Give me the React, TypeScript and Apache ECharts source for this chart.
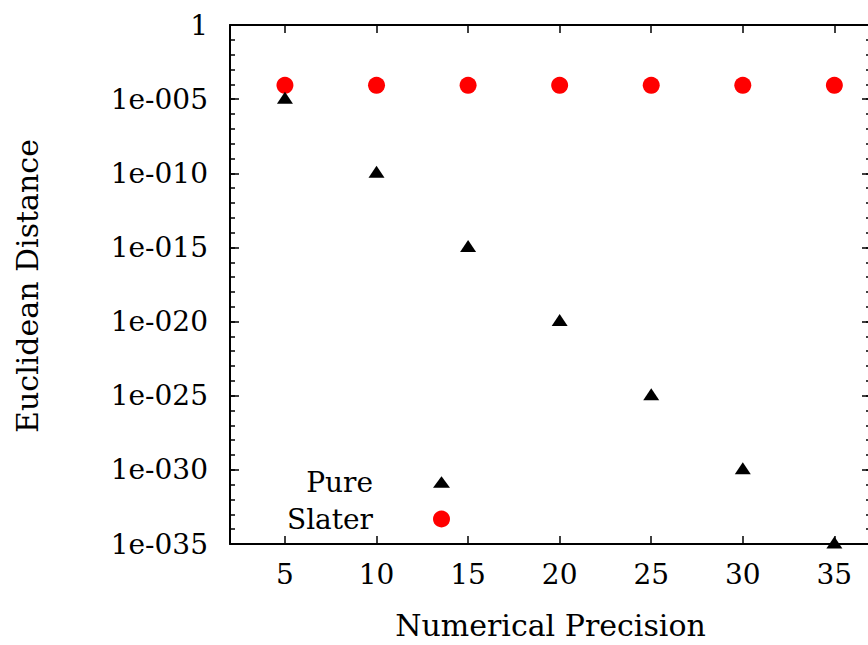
import React, { useEffect, useRef } from "react";
import * as echarts from "echarts";

const precision = [5, 10, 15, 20, 25, 30, 35];
const pureValues = [1e-5, 1e-10, 1e-15, 1e-20, 1e-25, 1e-30, 1e-35];
const slaterValues = [8.6e-5, 8.6e-5, 8.6e-5, 8.6e-5, 8.6e-5, 8.6e-5, 8.6e-5];
const xTickValues = [5, 10, 15, 20, 25, 30, 35];
const yLabelValues = [1e-35, 1e-30, 1e-25, 1e-20, 1e-15, 1e-10, 1e-5, 1];
const seriesNames = ["Pure", "Slater"];
const xTitle = "Numerical Precision";
const yTitle = "Euclidean Distance";

const FONT = "DejaVu Serif";

function fmtLog(v: number): string {
  const e = Math.round(Math.log10(v));
  if (e === 0) return "1";
  return "1e-" + String(-e).padStart(3, "0");
}

export default function App() {
  const ref = useRef<HTMLDivElement>(null);
  useEffect(() => {
    if (!ref.current) return;
    const chart = echarts.init(ref.current, null, { renderer: "svg" });
    const lineStyle = { color: "#000", width: 2 };
    const yBase = {
      type: "log" as const,
      logBase: 10,
      min: 1e-35,
      max: 1,
      splitLine: { show: false },
    };
    const xBase = {
      type: "value" as const,
      min: 2,
      max: 37,
      splitLine: { show: false },
    };
    chart.setOption({
      animation: false,
      backgroundColor: "#fff",
      grid: { left: 230, top: 25, right: -3, bottom: 101, containLabel: false, outerBoundsMode: "none" },
      legend: {
        data: [
          { name: seriesNames[0], icon: "path://M0,11L8,0L16,11Z" },
          { name: seriesNames[1], icon: "circle" },
        ],
        orient: "vertical",
        align: "right",
        right: 418,
        top: 468,
        padding: 0,
        itemGap: 9,
        itemWidth: 17,
        itemHeight: 17,
        formatter: (name: string) => `{a|${name}}`,
        textStyle: {
          color: "#000",
          fontFamily: FONT,
          fontSize: 28,
          rich: { a: { fontFamily: FONT, fontSize: 28, color: "#000", padding: [0, 55, 0, 0] } },
        },
      },
      graphic: [
        {
          type: "text",
          x: 27,
          y: 286,
          rotation: Math.PI / 2,
          style: {
            text: yTitle,
            fontFamily: FONT,
            fontSize: 30,
            fill: "#000",
            align: "center",
            verticalAlign: "middle",
          },
        },
      ],
      xAxis: [
        {
          ...xBase,
          position: "bottom",
          name: xTitle,
          nameLocation: "middle",
          nameGap: 66,
          nameTextStyle: { fontFamily: FONT, fontSize: 30, color: "#000" },
          axisLine: { show: true, onZero: false, lineStyle },
          axisTick: { show: true, inside: true, length: 8, customValues: xTickValues, lineStyle: { color: "#000", width: 1.5 } },
          axisLabel: { show: true, customValues: xTickValues, margin: 16, fontFamily: FONT, fontSize: 28, color: "#000" },
        },
        {
          ...xBase,
          position: "top",
          axisLine: { show: true, onZero: false, lineStyle },
          axisTick: { show: true, inside: true, length: 8, customValues: xTickValues, lineStyle: { color: "#000", width: 1.5 } },
          axisLabel: { show: false },
        },
      ],
      yAxis: [
        {
          ...yBase,
          position: "left",
          interval: 5,
          axisLine: { show: true, onZero: false, lineStyle },
          axisTick: { show: true, inside: true, length: 9, lineStyle: { color: "#000", width: 1.5 } },
          axisLabel: {
            show: true,
            customValues: yLabelValues,
            margin: 22,
            fontFamily: FONT,
            fontSize: 28,
            color: "#000",
            formatter: fmtLog,
            showMinLabel: true,
            showMaxLabel: true,
            hideOverlap: false,
          },
        },
        {
          ...yBase,
          position: "left",
          interval: 1,
          axisLine: { show: false },
          axisTick: { show: true, inside: true, length: 5, lineStyle: { color: "#000", width: 1.5 } },
          axisLabel: { show: false },
        },
        {
          ...yBase,
          position: "right",
          interval: 5,
          axisLine: { show: true, onZero: false, lineStyle },
          axisTick: { show: true, inside: true, length: 9, lineStyle: { color: "#000", width: 1.5 } },
          axisLabel: { show: false },
        },
        {
          ...yBase,
          position: "right",
          interval: 1,
          axisLine: { show: false },
          axisTick: { show: true, inside: true, length: 5, lineStyle: { color: "#000", width: 1.5 } },
          axisLabel: { show: false },
        },
      ],
      series: [
        {
          name: seriesNames[0],
          type: "scatter",
          xAxisIndex: 0,
          yAxisIndex: 0,
          symbol: "triangle",
          symbolSize: [16, 12],
          symbolOffset: [0, -1.5],
          clip: false,
          itemStyle: { color: "#000", opacity: 1 },
          data: precision.map((p, i) => [p, pureValues[i]]),
          z: 3,
        },
        {
          name: seriesNames[1],
          type: "scatter",
          xAxisIndex: 0,
          yAxisIndex: 0,
          symbol: "circle",
          symbolSize: 17,
          clip: false,
          itemStyle: { color: "#ff0000", opacity: 1 },
          data: precision.map((p, i) => [p, slaterValues[i]]),
          z: 2,
        },
      ],
    });
    return () => chart.dispose();
  }, []);
  return (
    <div
      ref={ref}
      style={{ position: "fixed", left: 0, top: 0, width: 868, height: 645, background: "#fff" }}
    />
  );
}
